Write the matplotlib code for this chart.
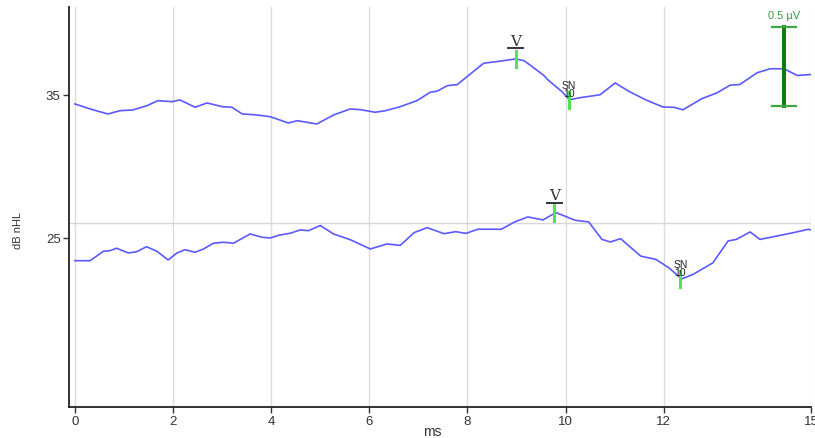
import numpy as np
import matplotlib
matplotlib.use("Agg")
from matplotlib import pyplot as plt
from matplotlib import transforms

# waveform (ms, dB nHL trace position)
top_ms = [0.0, 0.31, 0.67, 0.92, 1.18, 1.47, 1.69, 1.98, 2.14, 2.45, 2.69, 3.00, 3.20, 3.41,
          3.71, 3.98, 4.35, 4.53, 4.93, 5.27, 5.61, 5.82, 6.12, 6.33, 6.63, 6.97, 7.24, 7.38,
          7.59, 7.79, 7.99, 8.33, 8.50, 8.74, 8.98, 9.15, 9.30, 9.56, 9.63, 9.86, 9.92, 10.08,
          10.26, 10.70, 11.01, 11.29, 11.63, 11.98, 12.22, 12.39, 12.77, 13.08, 13.35, 13.55,
          13.90, 14.17, 14.45, 14.72, 15.0]
top_val = [34.37, 34.02, 33.67, 33.90, 33.95, 34.25, 34.60, 34.53, 34.65, 34.14, 34.44, 34.18,
           34.14, 33.67, 33.60, 33.48, 33.04, 33.20, 32.97, 33.60, 34.02, 33.97, 33.79, 33.90,
           34.18, 34.60, 35.19, 35.26, 35.65, 35.72, 36.28, 37.22, 37.29, 37.40, 37.52, 37.40,
           37.03, 36.35, 36.08, 35.42, 35.25, 34.66, 34.79, 35.01, 35.84, 35.25, 34.66, 34.16,
           34.13, 33.96, 34.73, 35.14, 35.68, 35.73, 36.55, 36.83, 36.83, 36.36, 36.43]

bot_ms = [0.0, 0.31, 0.58, 0.71, 0.85, 1.09, 1.26, 1.46, 1.67, 1.90, 2.08, 2.24, 2.45, 2.62,
          2.82, 3.03, 3.23, 3.57, 3.81, 3.98, 4.18, 4.39, 4.59, 4.76, 5.00, 5.27, 5.61, 6.02,
          6.36, 6.63, 6.91, 7.18, 7.52, 7.76, 7.97, 8.21, 8.69, 8.96, 9.23, 9.54, 9.80, 10.19,
          10.47, 10.74, 10.91, 11.12, 11.53, 11.84, 12.11, 12.36, 12.59, 13.00, 13.31, 13.48,
          13.76, 13.96, 14.37, 14.64, 14.95, 15.0]
bot_val = [23.41, 23.41, 24.07, 24.11, 24.28, 23.95, 24.04, 24.39, 24.07, 23.46, 23.95, 24.18,
           24.00, 24.23, 24.63, 24.70, 24.63, 25.28, 25.05, 25.00, 25.21, 25.33, 25.56, 25.51,
           25.87, 25.28, 24.88, 24.23, 24.58, 24.48, 25.37, 25.72, 25.30, 25.44, 25.32, 25.61,
           25.61, 26.12, 26.47, 26.26, 26.78, 26.24, 26.12, 24.90, 24.72, 24.95, 23.73, 23.50,
           22.90, 22.13, 22.44, 23.26, 24.79, 24.90, 25.42, 24.90, 25.18, 25.37, 25.61, 25.56]

# peak marks: (label, latency ms, trace value)
top_marks = [("V", 8.98, 37.52), ("SN\n10", 10.06, 34.68)]
bot_marks = [("V", 9.77, 26.72), ("SN\n10", 12.34, 22.15)]

cursor_level = 26.05
scale_ms = 14.45
scale_lo, scale_hi = 34.23, 39.76
scale_label = "0.5 µV"

xticks = [0, 2, 4, 6, 8, 10, 12, 15]
yticks = [25, 35]

trace_color = "#5a5aff"
mark_green = "#55e055"
font_narrow = ["Liberation Sans Narrow", "Liberation Sans", "DejaVu Sans"]

fig = plt.figure(figsize=(8.15, 4.39), dpi=100)
ax = fig.add_axes([0.0847, 0.0706, 0.9104, 0.9112])

ax.plot(top_ms, top_val, color=trace_color, lw=1.2, zorder=3)
ax.plot(bot_ms, bot_val, color=trace_color, lw=1.2, zorder=3)

ax.axhline(cursor_level, color="#d8d8d8", lw=1.0, zorder=1)

for marks in (top_marks, bot_marks):
    for label, t, v in marks:
        ax.plot([t, t], [v - 0.56, v + 0.56], color=mark_green, lw=2.2, zorder=4)
        if label == "V":
            ax.annotate("V", (t, v), xytext=(0, 8), textcoords="offset points",
                        ha="center", va="bottom", fontsize=11, family="DejaVu Serif",
                        color="#333333", zorder=5)
            tr = transforms.offset_copy(ax.transData, fig=fig, x=0, y=7.5, units="points")
            ax.plot([t - 0.15, t + 0.15], [v, v], color="#333333", lw=1.4,
                    transform=tr, zorder=5)
        else:
            ax.annotate(label, (t, v), xytext=(0, 1), textcoords="offset points",
                        ha="center", va="bottom", fontsize=7.5, linespacing=0.75,
                        family=font_narrow, color="#222222", zorder=5)

# amplitude scale bar
ax.plot([scale_ms, scale_ms], [scale_lo, scale_hi], color="#0a7a0a", lw=2.8, zorder=4)
for yy in (scale_lo, scale_hi):
    ax.plot([scale_ms - 0.24, scale_ms + 0.24], [yy, yy], color="#3aa83a", lw=1.6, zorder=4)
ax.annotate(scale_label, (scale_ms, scale_hi), xytext=(0, 5), textcoords="offset points",
            ha="center", va="bottom", fontsize=8, color="#2e9e3e", family=font_narrow)

ax.set_xlim(-0.12, 15.0)
ax.set_ylim(13.18, 41.15)
ax.set_xticks(xticks)
ax.set_yticks(yticks)
for t in xticks:
    ax.axvline(t, color="#dcdcdc", lw=1.0, zorder=0)
for lab in ax.get_xticklabels() + ax.get_yticklabels():
    lab.set_family(font_narrow)
    lab.set_fontsize(9.5)
    lab.set_color("#333333")
ax.tick_params(length=4, width=1, color="#333333", pad=2)
ax.set_xlabel("ms", family=font_narrow, fontsize=10, color="#333333", va="center")
ax.xaxis.set_label_coords(0.489, -0.06)
ax.set_ylabel("dB nHL", family=font_narrow, fontsize=8, color="#333333", va="center")
ax.yaxis.set_label_coords(-0.069, 0.445)

for side in ("top", "right"):
    ax.spines[side].set_visible(False)
for side in ("left", "bottom"):
    ax.spines[side].set_linewidth(1.3)
    ax.spines[side].set_color("#222222")

fig.savefig("out.png", dpi=100)
